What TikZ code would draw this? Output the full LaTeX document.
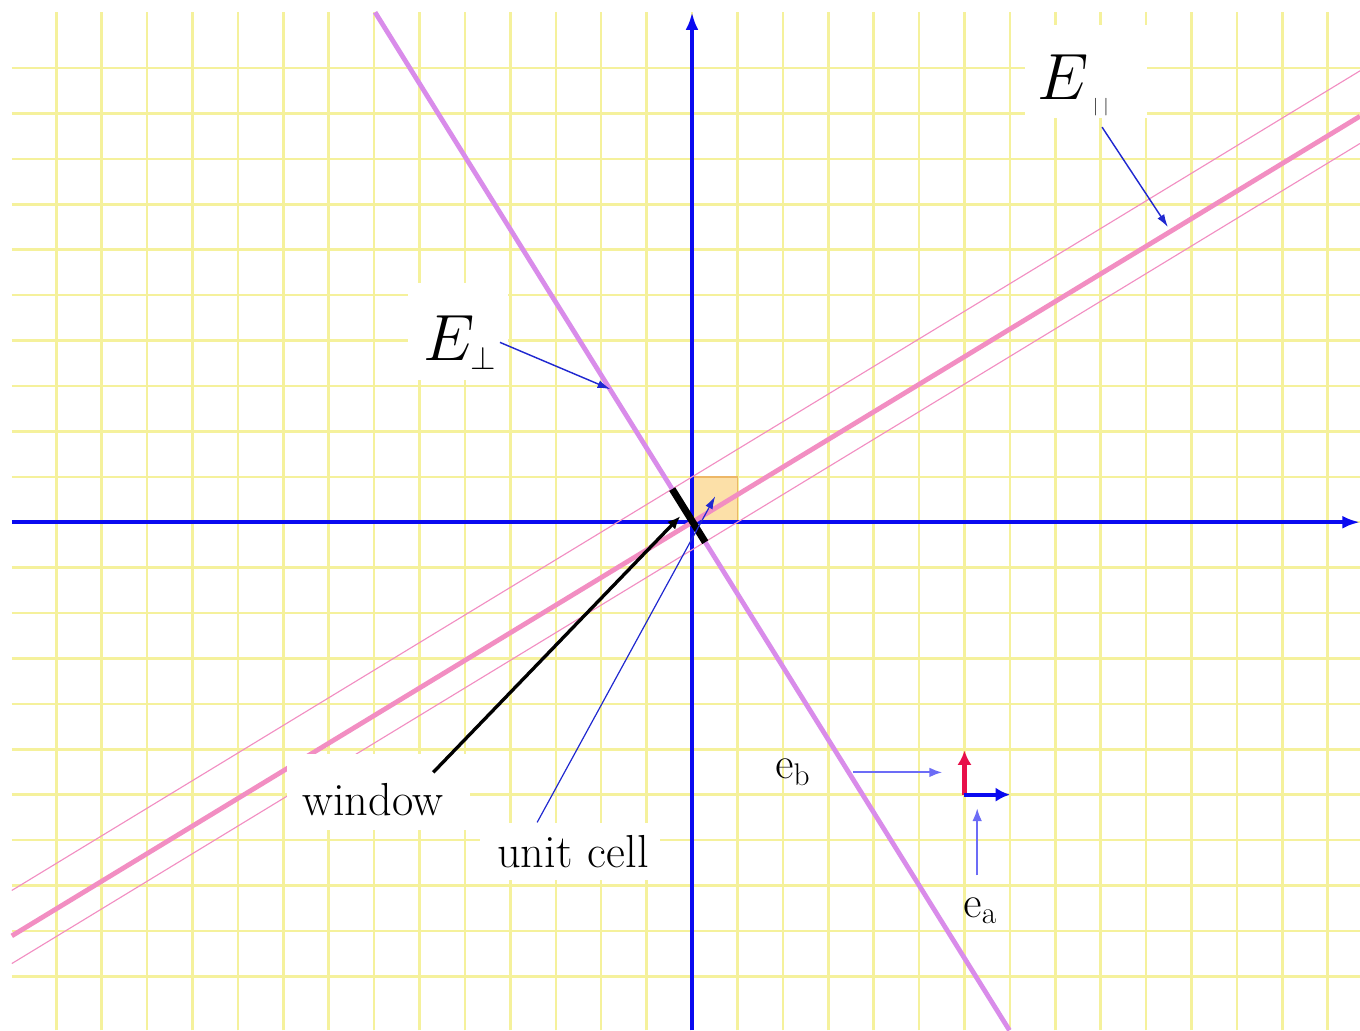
\RequirePackage{fix-cm}
\documentclass[tikz,border=0pt]{standalone}
\usepackage{amsmath,amssymb}
\usepackage{tikz}
\usetikzlibrary{arrows.meta,calc}
\usepackage{xcolor}
\definecolor{gridYellow}{HTML}{F5F19C}
\definecolor{axisBlue}{HTML}{0A0AF0}
\definecolor{parPink}{HTML}{F28EC2}
\definecolor{perpViolet}{HTML}{D98CEA}
\definecolor{cellOrange}{HTML}{FCE0A8}
\definecolor{cellEdge}{HTML}{EDB766}
\definecolor{basisRed}{HTML}{E8104A}
\definecolor{pointerBlue}{HTML}{2028D0}

\begin{document}
\begin{tikzpicture}[
    gridLine/.style={draw=gridYellow, line width=1.6pt},
    axisLine/.style={draw=axisBlue, line width=2.4pt, -{Latex[length=11pt,width=8pt]}},
    parLine/.style={draw=parPink, line width=3pt},
    stripEdge/.style={draw=parPink, line width=0.7pt},
    perpLine/.style={draw=perpViolet, line width=3pt},
    windowBar/.style={draw=black, line width=4.4pt},
    whiteTag/.style={fill=white, inner sep=0pt, anchor=base west, align=left, font=\fontsize{29}{32}\selectfont},
    letterTag/.style={inner sep=0pt, anchor=base west, font=\fontsize{28}{32}\selectfont},
    pointerArrow/.style={draw=pointerBlue, line width=0.9pt, -{Latex[length=8pt,width=5pt]}},
    softPointer/.style={draw=axisBlue!60, line width=1.2pt, -{Latex[length=8pt,width=6pt]}},
    windowArrow/.style={draw=black, line width=2.1pt, -{Latex[length=8pt,width=7pt]}},
    basisArrow/.style={line width=2.6pt, -{Latex[length=9pt,width=9pt]}}
]
    \useasboundingbox (-15.24,-11.19) rectangle (14.71,11.50);
    \fill[white] (-15.24,-11.19) rectangle (14.71,11.50);

    % grid
    \foreach \x in {-14,...,14}
        \draw[gridLine] (\x,-11.19) -- (\x,11.23);
    \foreach \y in {-10,...,10}
        \draw[gridLine] (-14.98,\y) -- (14.71,\y);

    \draw[draw=cellEdge, fill=cellOrange, line width=1pt] (0,0) rectangle (1,1);

    % axes
    \draw[axisLine] (-14.98,0) -- (14.71,0);
    \draw[axisLine] (0,-11.19) -- (0,11.23);

    \coordinate (perpTop) at (-6.98,11.23);
    \coordinate (perpBot) at (6.99,-11.19);
    \coordinate (parLeft) at (-14.98,-9.11);
    \coordinate (parRight) at (14.71,8.94);

    \draw[stripEdge] (-14.98,-8.11) -- (14.71,9.94);
    \draw[stripEdge] (-14.98,-9.72) -- (14.71,8.34);
    \draw[parLine] (parLeft) -- (parRight);
    \draw[perpLine] (perpTop) -- (perpBot);

    \coordinate (winTop) at ($(perpTop)!(0,1)!(perpBot)$);
    \coordinate (winBot) at ($(perpTop)!(1,0)!(perpBot)$);
    \draw[windowBar] (winTop) -- (winBot);

    % labels
    \node[whiteTag, text width=62.7pt, text height=48.2pt, text depth=12.5pt, font=\fontsize{41}{44}\selectfont] (tagPerp) at (-6.26,3.57) {\hspace*{9.4pt}$E_{\scriptscriptstyle\perp}$};
    \node[whiteTag, text width=76.4pt, text height=47pt, text depth=11.3pt, font=\fontsize{41}{44}\selectfont] (tagPar) at (7.33,9.30) {\hspace*{7.5pt}$E$\hspace{3pt}\raisebox{-7pt}{\fontsize{11}{11}\selectfont$|\hspace{3.5pt}|$}};
    \node[whiteTag, text width=114.7pt, text height=38.2pt, text depth=9.4pt] (tagWindow) at (-8.92,-6.45) {\hspace*{9.4pt}window};
    \node[whiteTag, text width=112.8pt, text height=27.6pt, text depth=8.1pt] (tagCell) at (-4.67,-7.60) {\hspace*{10.6pt}unit cell};
    \node[letterTag] (tagEb) at (1.83,-5.64) {$\mathrm{e}_{\mathrm{b}}$};
    \node[letterTag] (tagEa) at (5.97,-8.70) {$\mathrm{e}_{\mathrm{a}}$};

    % pointers
    \coordinate (perpFrom) at (-4.23,3.96);
    \coordinate (perpTo) at (-1.80,2.93);
    \coordinate (parFrom) at (9.03,8.70);
    \coordinate (parTo) at (10.48,6.50);
    \coordinate (winFrom) at (-5.70,-5.51);
    \coordinate (winTo) at (-0.26,0.13);
    \coordinate (cellFrom) at (-3.41,-6.61);
    \coordinate (cellTo) at (0.51,0.57);
    \coordinate (ebFrom) at (3.55,-5.51);
    \coordinate (ebTo) at (5.51,-5.51);
    \coordinate (eaFrom) at (6.28,-7.78);
    \coordinate (eaTo) at (6.28,-6.30);

    \draw[pointerArrow] (perpFrom) -- (perpTo);
    \draw[pointerArrow] (parFrom) -- (parTo);
    \draw[windowArrow] (winFrom) -- (winTo);
    \draw[pointerArrow, line width=0.75pt] (cellFrom) -- (cellTo);
    \draw[softPointer] (ebFrom) -- (ebTo);
    \draw[softPointer] (eaFrom) -- (eaTo);

    % basis vectors
    \coordinate (basisO) at (6,-6);
    \draw[basisArrow, draw=basisRed] (basisO) -- ++(0,0.97);
    \draw[basisArrow, draw=axisBlue] (basisO) -- ++(1.0,0);
\end{tikzpicture}
\end{document}
